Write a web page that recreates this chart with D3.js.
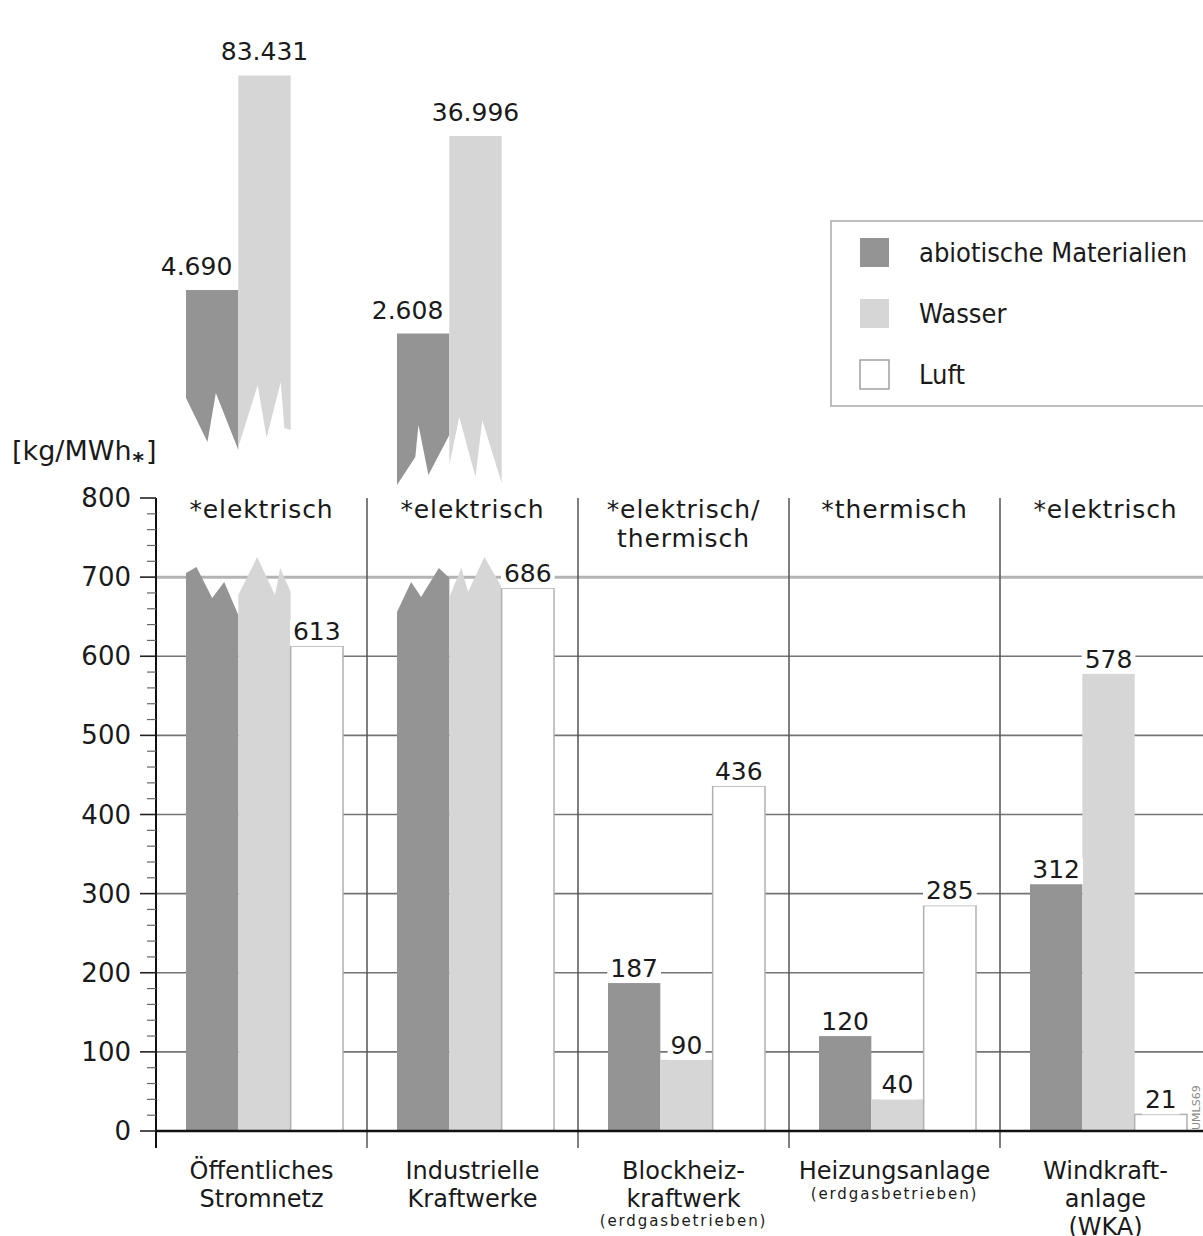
<!DOCTYPE html>
<html>
<head>
<meta charset="utf-8">
<script src="https://cdn.jsdelivr.net/npm/d3@7"></script>
<style>
  html, body { margin: 0; padding: 0; background: #fff; }
  svg { display: block; }
  text { font-family: "DejaVu Sans", sans-serif; fill: #1a1a1a; }
</style>
</head>
<body>
<svg id="chart" width="1203" height="1236"></svg>
<script>
// ---------- data ----------
const categories = ["Öffentliches Stromnetz", "Industrielle Kraftwerke", "Blockheizkraftwerk", "Heizungsanlage", "Windkraftanlage (WKA)"];
const categoryLines = [["Öffentliches", "Stromnetz"], ["Industrielle", "Kraftwerke"], ["Blockheiz-", "kraftwerk"], ["Heizungsanlage"], ["Windkraft-", "anlage", "(WKA)"]];
const categoryNotes = ["", "", "(erdgasbetrieben)", "(erdgasbetrieben)", ""];
const headers = [["*elektrisch"], ["*elektrisch"], ["*elektrisch/", "thermisch"], ["*thermisch"], ["*elektrisch"]];
const series = ["abiotische Materialien", "Wasser", "Luft"];
const abiotisch = [4690, 2608, 187, 120, 312];
const wasser = [83431, 36996, 90, 40, 578];
const luft = [613, 686, 436, 285, 21];
const yTicks = [0, 100, 200, 300, 400, 500, 600, 700, 800];
const yLabel = "[kg/MWh";

// ---------- layout / style ----------
const colors = ["#949494", "#d6d6d6", "#ffffff"];
const svg = d3.select("#chart");
const W = 1203;
const y = d3.scaleLinear().domain([0, 800]).range([1131, 498]);
const x0 = d3.scaleBand().domain(categories).range([155, 1210]);
const x1 = d3.scaleBand().domain(series).range([31, 188]);
const yUp = d3.scaleLog().domain([1000, 100000]).range([405, 62]);
const de = d3.formatLocale({decimal: ",", thousands: ".", grouping: [3], currency: ["", " €"]});
const fmt = de.format(",d");
const breakValue = 652;            // where broken bars are cut in the lower panel
const upperBottom = i => 450 + i * 35;

// decorative jag profiles for broken bars [fraction of width, offset px]
const jagLower = {
  "0-0": [[0,-42],[0.2,-48],[0.5,-17],[0.73,-33],[1,0]],
  "0-1": [[0,-20],[0.36,-58],[0.7,-20],[0.8,-47],[1,-23]],
  "1-0": [[0,-3],[0.27,-33],[0.46,-18],[0.8,-47],[1,-37]],
  "1-1": [[0,-18],[0.23,-47],[0.36,-23],[0.67,-58],[1,-28]]
};
const jagUpper = {
  "0-0": [[0,-52],[0.41,-8],[0.57,-57],[1,0]],
  "0-1": [[0,-3],[0.37,-65],[0.54,-12],[0.81,-68],[0.88,-22],[1,-20]],
  "1-0": [[0,0],[0.35,-28],[0.41,-60],[0.6,-10],[1,-50]],
  "1-1": [[0,-20],[0.19,-68],[0.5,-8],[0.63,-65],[1,-2]]
};

const table = categories.map((c, i) => ({
  cat: c, i,
  vals: [abiotisch[i], wasser[i], luft[i]]
}));

// ---------- gridlines ----------
const grid = svg.append("g");
yTicks.filter(t => t > 0 && t < 800).forEach(t => {
  grid.append("line")
    .attr("x1", 156).attr("x2", W)
    .attr("y1", y(t)).attr("y2", y(t))
    .attr("stroke", t === 700 ? "#b4b4b4" : "#747474")
    .attr("stroke-width", t === 700 ? 3 : 1.6);
});

// vertical separators
categories.slice(0, 4).forEach(c => {
  const xx = x0(c) + x0.bandwidth() + 1;
  grid.append("line")
    .attr("x1", xx).attr("x2", xx)
    .attr("y1", y(800)).attr("y2", y(0) + 17)
    .attr("stroke", "#555").attr("stroke-width", 1.5);
});

// ---------- bars ----------
const bars = svg.append("g");
const labels = [];
table.forEach(d => {
  d.vals.forEach((v, s) => {
    const bx = x0(d.cat) + x1(series[s]);
    const bw = x1.bandwidth();
    const key = d.i + "-" + s;
    if (v > 800) {
      // lower panel broken bar
      const base = y(breakValue);
      const pts = [[bx, y(0)]].concat(jagLower[key].map(p => [bx + p[0] * bw, base + p[1]])).concat([[bx + bw, y(0)]]);
      bars.append("path").attr("d", d3.line()(pts) + "Z").attr("fill", colors[s]);
      // upper panel
      const top = yUp(v);
      const bot = upperBottom(d.i);
      const jp = jagUpper[key].map(p => [bx + p[0] * bw, bot + p[1]]).reverse();
      const up = [[bx, top], [bx + bw, top]].concat(jp);
      bars.append("path").attr("d", d3.line()(up) + "Z").attr("fill", colors[s]);
      labels.push({
        text: fmt(v),
        x: s === 0 ? bx + bw - 6 : bx + bw / 2,
        y: top - 15,
        anchor: s === 0 ? "end" : "middle",
        bg: false
      });
    } else {
      bars.append("rect")
        .attr("x", bx).attr("y", y(v))
        .attr("width", bw).attr("height", y(0) - y(v))
        .attr("fill", colors[s])
        .attr("stroke", s === 2 ? "#b0b0b0" : "none")
        .attr("stroke-width", s === 2 ? 1.5 : 0);
      labels.push({text: fmt(v), x: bx + bw / 2, y: y(v) - 6, anchor: "middle", bg: true});
    }
  });
});

// value labels
const lg = svg.append("g");
labels.forEach(l => {
  const t = lg.append("text")
    .attr("x", l.x).attr("y", l.y)
    .attr("text-anchor", l.anchor)
    .attr("font-size", 25)
    .text(l.text);
  if (l.bg) {
    const bb = t.node().getBBox();
    lg.insert("rect", () => t.node())
      .attr("x", bb.x - 3).attr("y", bb.y + 3)
      .attr("width", bb.width + 6).attr("height", bb.height - 3)
      .attr("fill", "#fff");
  }
});

// ---------- axes ----------
const ax = svg.append("g");
// zero baseline
ax.append("line").attr("x1", 156).attr("x2", W).attr("y1", y(0)).attr("y2", y(0))
  .attr("stroke", "#111").attr("stroke-width", 2.5);
// y axis line
ax.append("line").attr("x1", 156).attr("x2", 156).attr("y1", y(800)).attr("y2", y(0) + 17)
  .attr("stroke", "#111").attr("stroke-width", 2);
// minor ticks
d3.range(0, 801, 20).forEach(t => {
  ax.append("line").attr("x1", t % 100 === 0 ? 140 : 147).attr("x2", 156)
    .attr("y1", y(t)).attr("y2", y(t))
    .attr("stroke", t % 100 === 0 ? "#222" : "#666").attr("stroke-width", t % 100 === 0 ? 1.6 : 1.2);
});
yTicks.forEach(t => {
  ax.append("text").attr("x", 131).attr("y", y(t) + 9)
    .attr("text-anchor", "end").attr("font-size", 26).text(t);
});

// y-axis unit label
const yl = svg.append("text").attr("x", 12).attr("y", 460).attr("font-size", 27);
yl.append("tspan").text(yLabel);
yl.append("tspan").attr("font-size", 22).attr("font-weight", "bold").attr("dy", 8).attr("dx", 1).text("*");
yl.append("tspan").attr("dy", -8).attr("dx", 2).text("]");

// headers
headers.forEach((lines, i) => {
  const cx = x0(categories[i]) + x0.bandwidth() / 2 + 1;
  lines.forEach((ln, k) => {
    svg.append("text").attr("x", cx).attr("y", 518 + k * 29)
      .attr("text-anchor", "middle").attr("font-size", 25)
      .attr("letter-spacing", 0.9).text(ln);
  });
});

// category labels
categoryLines.forEach((lines, i) => {
  const cx = x0(categories[i]) + x0.bandwidth() / 2 + 1;
  lines.forEach((ln, k) => {
    svg.append("text").attr("x", cx).attr("y", 1179 + k * 28)
      .attr("text-anchor", "middle").attr("font-size", 24).text(ln);
  });
  if (categoryNotes[i]) {
    svg.append("text").attr("x", cx).attr("y", 1179 + lines.length * 27 - 7)
      .attr("text-anchor", "middle").attr("font-size", 15)
      .attr("letter-spacing", 1.9).text(categoryNotes[i]);
  }
});

// ---------- legend ----------
const leg = svg.append("g");
leg.append("rect").attr("x", 831).attr("y", 221).attr("width", 420).attr("height", 185)
  .attr("fill", "#fff").attr("stroke", "#a8a8a8").attr("stroke-width", 1.5);
series.forEach((s, k) => {
  const yy = 238 + k * 61;
  leg.append("rect").attr("x", 860).attr("y", yy).attr("width", 29).attr("height", 29)
    .attr("fill", colors[k])
    .attr("stroke", k === 2 ? "#a0a0a0" : "none").attr("stroke-width", 1.5);
  leg.append("text").attr("x", 919).attr("y", yy + 24)
    .attr("font-family", "DejaVu Sans Condensed, DejaVu Sans, sans-serif")
    .attr("font-stretch", "condensed")
    .attr("font-size", 27).text(s);
});

// tiny rotated code at right edge
svg.append("text").attr("transform", "translate(1200,1130) rotate(-90)")
  .attr("font-size", 11).style("fill", "#888").text("UMLS69");
</script>
</body>
</html>
